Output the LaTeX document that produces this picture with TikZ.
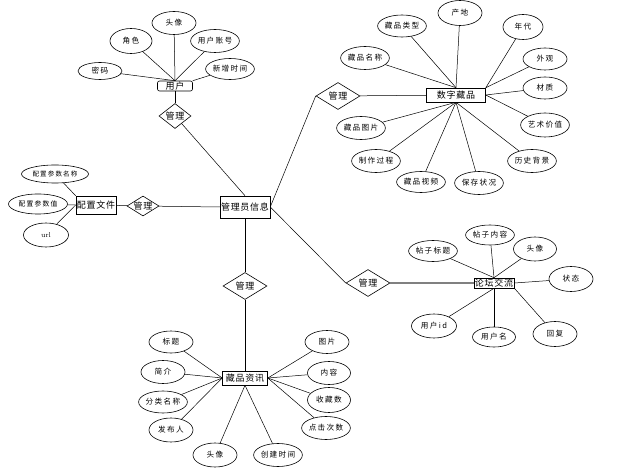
\documentclass[tikz,border=0pt]{standalone}
\usepackage{fontspec}
\usepackage{tikz}
\usetikzlibrary{shapes}
\newfontfamily\cjk[LetterSpace=18]{Noto Sans CJK SC}
\newfontfamily\cjkb[LetterSpace=8]{Noto Sans CJK SC}
\tikzstyle{er}=[x=1pt,y=-1pt, every node/.style={text=black,
                font=\cjk\fontsize{7.6}{8}\selectfont}]
\tikzstyle{ent}=[draw, rectangle, line width=0.6pt, inner xsep=1pt,
                inner ysep=0.5pt, font=\cjkb\fontsize{9}{10}\selectfont]
\tikzstyle{attr}=[draw, ellipse, line width=0.6pt, inner sep=0pt,
                minimum width=44pt, minimum height=23pt]
\tikzstyle{rel}=[draw, diamond, line width=0.6pt, inner sep=0pt, aspect=1.6,
                minimum width=44pt, minimum height=27pt,
                font=\cjkb\fontsize{9}{10}\selectfont]
\tikzstyle{ln}=[draw=black, line width=0.5pt]

\begin{document}
\begin{tikzpicture}[er]
\path[use as bounding box] (0,0) rectangle (637,470);
% centre
\node[ent, minimum width=49pt, minimum height=22pt] (adm) at (245,207) {管理员信息};

% user
\node[ent, rounded corners=2pt, minimum width=35pt, minimum height=10pt] (user) at (175,86) {用户};
\node[rel, minimum width=30pt, minimum height=25pt] (ru) at (175,116) {管理};
\node[attr, minimum height=17pt] (u1) at (100,71) {密码};
\node[attr, minimum width=42pt, minimum height=25pt] (u2) at (131,41) {角色};
\node[attr] (u3) at (174,23) {头像};
\node[attr] (u4) at (215,41) {用户账号};
\node[attr, minimum height=21pt] (u5) at (230,69) {新增时间};
\path[ln]
  (u1) edge (user.north)
  (u2) edge (user.north)
  (u3) edge (user.north)
  (u4) edge (user.north)
  (u5) edge (user.north east)
  (user) edge (ru)
  (ru) edge (adm.north);

% digital collection
\node[ent, minimum width=59pt, minimum height=14pt] (prod) at (456,95) {数字藏品};
\node[rel] (rp) at (338,96) {管理};
\node[attr] (p1) at (365,58) {藏品名称};
\node[attr, minimum height=22pt] (p2) at (402,26) {藏品类型};
\node[attr, minimum height=25pt] (p3) at (460,13) {产地};
\node[attr, minimum width=40pt, minimum height=25pt] (p4) at (523,27) {年代};
\node[attr, minimum height=22pt] (p5) at (545,59) {外观};
\node[attr, minimum height=22pt] (p6) at (545,88) {材质};
\node[attr, minimum height=24pt] (p7) at (545,125) {艺术价值};
\node[attr] (p8) at (532,161) {历史背景};
\node[attr] (p9) at (479,183) {保存状况};
\node[attr, minimum height=21pt] (p10) at (421,182) {藏品视频};
\node[attr] (p11) at (376,161) {制作过程};
\node[attr] (p12) at (361,128) {藏品图片};
\path[ln]
  (p1) edge (prod.north)
  (p2) edge (prod.north)
  (p3) edge (prod.north)
  (p4) edge (prod.north east)
  (p5) edge (prod.north east)
  (p6) edge (prod.east)
  (p7) edge (prod.east)
  (p8) edge (prod.south)
  (p9) edge (prod.south)
  (p10) edge (prod.south)
  (p11) edge (prod.south)
  (p12) edge (prod.south)
  (rp) edge (prod)
  (adm.east) edge (rp.west);

% config file
\node[ent, minimum width=39pt, minimum height=18pt] (conf) at (96,205) {配置文件};
\node[rel, minimum width=30pt, minimum height=19pt] (rc) at (143,206) {管理};
\node[attr, minimum width=67pt, minimum height=18pt,
      font=\cjk\fontsize{6.5}{7}\selectfont] (c1) at (55,174) {配置参数名称};
\node[attr, minimum width=59pt, minimum height=20pt,
      font=\cjk\fontsize{6.8}{7}\selectfont] (c2) at (38,204) {配置参数值};
\node[attr, minimum width=45pt, minimum height=24pt, font=\rmfamily\scriptsize] (c3) at (46,235) {url};
\path[ln]
  (c1) edge (conf.north west)
  (c2) edge (conf.west)
  (c3) edge (conf.west)
  (conf) edge (rc)
  (rc) edge (adm.west);

% forum
\node[ent, minimum width=37pt, minimum height=10pt] (forum) at (494,283) {论坛交流};
\node[rel] (rf) at (368,283) {管理};
\node[attr, minimum height=21pt] (f1) at (433,251) {帖子标题};
\node[attr, minimum height=20pt] (f2) at (490,235) {帖子内容};
\node[attr, minimum width=43pt, minimum height=24pt] (f3) at (535,249) {头像};
\node[attr, minimum height=25pt] (f4) at (571,279) {状态};
\node[attr, minimum width=44pt, minimum height=25pt] (f5) at (555,334) {回复};
\node[attr, minimum width=43pt, minimum height=20pt] (f6) at (494,337) {用户名};
\node[attr, minimum width=45pt, minimum height=24pt] (f7) at (434,326) {用户id};
\path[ln]
  (f1) edge (forum.north)
  (f2) edge (forum.north)
  (f3) edge (forum.north)
  (f4) edge (forum.east)
  (f5) edge (forum.south east)
  (f6) edge (forum.south)
  (f7) edge (forum.south)
  (adm.east) edge (rf.west);
\path[draw=gray, line width=1.3pt] (rf) -- (forum);

% news
\node[ent, minimum width=45pt, minimum height=14pt] (news) at (245,378) {藏品资讯};
\node[rel] (rn) at (245,286) {管理};
\node[attr, minimum height=22pt] (n1) at (171,342) {标题};
\node[attr] (n2) at (163,372) {简介};
\node[attr, minimum height=22pt] (n3) at (163,402) {分类名称};
\node[attr, minimum height=24pt] (n4) at (171,430) {发布人};
\node[attr, minimum height=24pt] (n5) at (215,455) {头像};
\node[attr] (n6) at (278,455) {创建时间};
\node[attr] (n7) at (327,342) {图片};
\node[attr, minimum width=43pt] (n8) at (329,373) {内容};
\node[attr, minimum width=43pt, minimum height=25pt] (n9) at (329,400) {收藏数};
\node[attr] (n10) at (326,428) {点击次数};
\path[ln]
  (adm) edge (rn)
  (rn) edge (news)
  (n1) edge (news.west)
  (n2) edge (news.west)
  (n3) edge (news.west)
  (n4) edge (news.west)
  (n5) edge (news.south)
  (n6) edge (news.south)
  (n7) edge (news.east)
  (n8) edge (news.east)
  (n9) edge (news.east)
  (n10) edge (news.east);
\end{tikzpicture}
\end{document}
